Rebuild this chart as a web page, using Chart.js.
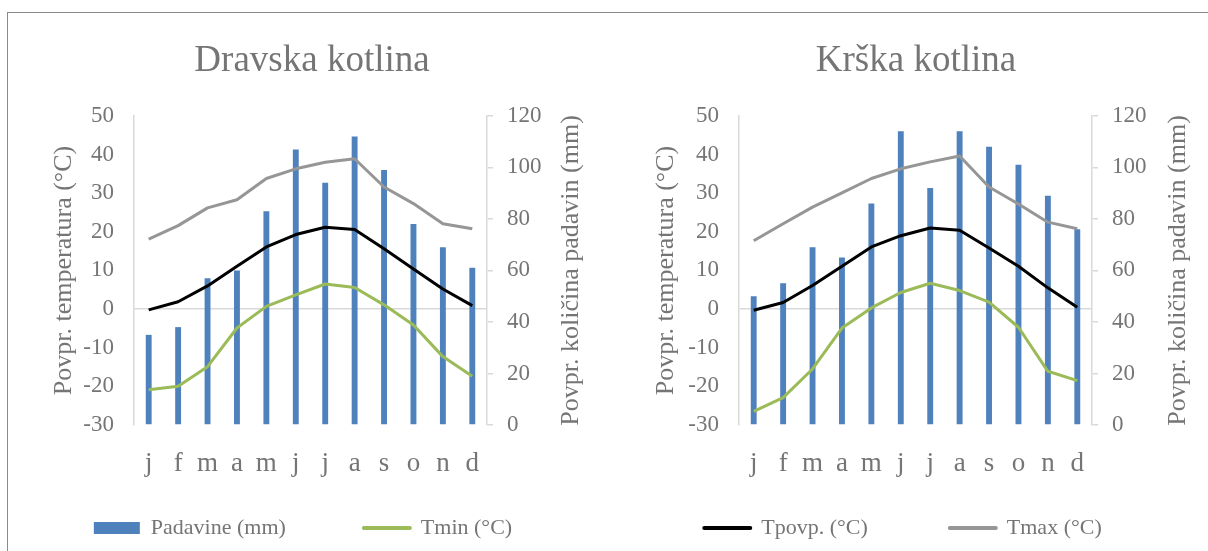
<!DOCTYPE html>
<html>
<head>
<meta charset="utf-8">
<script src="https://cdn.jsdelivr.net/npm/chart.js@4"></script>
<style>
  html, body { margin: 0; padding: 0; background: #fff; overflow: hidden; }
  #frame { position: absolute; left: 7px; top: 12px; width: 1300px; height: 700px;
           border-top: 1px solid #8a8a8a; border-left: 1px solid #8a8a8a; }
  canvas { position: absolute; top: 0; }
</style>
</head>
<body>
<div id="frame"></div>
<canvas id="c1" width="604" height="600" style="left:0"></canvas>
<canvas id="c2" width="604" height="600" style="left:604px"></canvas>
<script>
// months
var months = ['j', 'f', 'm', 'a', 'm', 'j', 'j', 'a', 's', 'o', 'n', 'd'];

// Dravska kotlina
var dravPadavine = [35, 38, 57, 60, 83, 107, 94, 112, 99, 78, 69, 61];
var dravTmin = [-20.9, -20.0, -14.9, -4.9, 0.7, 3.7, 6.5, 5.6, 1.1, -4.1, -12.3, -17.4];
var dravTpovp = [-0.2, 1.9, 6.0, 11.1, 16.1, 19.3, 21.2, 20.6, 15.6, 10.4, 5.2, 0.9];
var dravTmax = [18.1, 21.6, 26.2, 28.3, 33.8, 36.3, 38.0, 38.9, 31.6, 27.3, 22.1, 20.8];

// Krska kotlina
var krsPadavine = [50, 55, 69, 65, 86, 114, 92, 114, 108, 101, 89, 76];
var krsTmin = [-26.5, -22.9, -15.5, -4.9, 0.3, 4.3, 6.7, 4.8, 1.8, -4.7, -16.1, -18.5];
var krsTpovp = [-0.3, 1.7, 6.1, 11.1, 16.1, 19.0, 21.0, 20.4, 15.8, 11.1, 5.5, 0.5];
var krsTmax = [17.7, 22.1, 26.4, 30.1, 33.8, 36.3, 38.1, 39.6, 31.6, 27.2, 22.5, 20.8];

// axis ranges
var tempRange = [-30, 50, 10];
var rainRange = [0, 120, 20];

var serif = 'Liberation Serif';
var grey = '#757575';
var axisGrey = '#d9d9d9';

// right axis title reads bottom-to-top like the left one
var rightTitle = {
  id: 'rightTitle',
  afterDraw: function (chart, args, o) {
    var s = chart.scales.y1, ctx = chart.ctx;
    ctx.save();
    ctx.translate(s.right - o.offset, (s.top + s.bottom) / 2);
    ctx.rotate(-Math.PI / 2);
    ctx.font = o.size + 'px "' + serif + '"';
    ctx.fillStyle = grey;
    ctx.textAlign = 'center';
    ctx.textBaseline = 'middle';
    ctx.fillText(o.text, 0, 0);
    ctx.restore();
  }
};

// nudge the legend row into place (wide item gaps make the box tall)
var legendShift = {
  id: 'legendShift',
  afterLayout: function (chart, args, o) {
    var lg = chart.legend;
    lg.left += o.dx; lg.right += o.dx;
    lg.top += o.dy; lg.bottom += o.dy;
  }
};

function makeChart(id, title, rain, tmin, tavg, tmax, L) {
  return new Chart(document.getElementById(id), {
    type: 'bar',
    data: {
      labels: months,
      datasets: [
        { type: 'bar', label: 'Padavine (mm)', data: rain, yAxisID: 'y1', order: 1,
          backgroundColor: '#4f81bd', categoryPercentage: 1, barPercentage: 0.2 },
        { type: 'line', label: 'Tmin (°C)', data: tmin, yAxisID: 'y', order: 0,
          borderColor: '#9bbb59', borderWidth: 3, pointRadius: 0, tension: 0, borderJoinStyle: 'round' },
        { type: 'line', label: 'Tpovp. (°C)', data: tavg, yAxisID: 'y', order: 0,
          borderColor: '#000000', borderWidth: 3, pointRadius: 0, tension: 0, borderJoinStyle: 'round' },
        { type: 'line', label: 'Tmax (°C)', data: tmax, yAxisID: 'y', order: 0,
          borderColor: '#969696', borderWidth: 3, pointRadius: 0, tension: 0, borderJoinStyle: 'round' }
      ]
    },
    options: {
      responsive: false,
      animation: false,
      layout: { padding: { left: 20, right: 0, top: 0, bottom: L.pb } },
      scales: {
        x: {
          grid: { display: false },
          border: { display: false },
          ticks: { color: grey, font: { family: serif, size: 27 }, padding: 15,
                   autoSkip: false, maxRotation: 0 },
          afterFit: function (s) { s.height = 60; }
        },
        y: {
          position: 'left',
          min: tempRange[0], max: tempRange[1],
          ticks: { stepSize: tempRange[2], color: grey, font: { family: serif, size: 23 }, padding: 20 },
          grid: { drawTicks: false, lineWidth: 1.5,
                  color: function (c) { return c.tick && c.tick.value === 0 ? axisGrey : 'transparent'; } },
          border: { display: true, color: axisGrey, width: 1.5 },
          title: { display: true, text: 'Povpr. temperatura (°C)', color: grey,
                   font: { family: serif, size: 26 }, padding: { top: L.ltPad, bottom: 0 } },
          afterFit: function (s) { s.width = L.yW; }
        },
        y1: {
          position: 'right',
          min: rainRange[0], max: rainRange[1],
          ticks: { stepSize: rainRange[2], color: grey, font: { family: serif, size: 23 }, padding: 14 },
          grid: { drawOnChartArea: false, tickLength: 6, tickColor: axisGrey, lineWidth: 1.5 },
          border: { display: true, color: axisGrey, width: 1.5 },
          afterFit: function (s) { s.width = L.y1W; }
        }
      },
      plugins: {
        title: { display: true, text: title, color: grey,
                 font: { family: serif, size: 37, weight: 'normal' },
                 padding: { top: 39, bottom: 32.5 } },
        legend: {
          position: 'bottom',
          labels: {
            color: grey, font: { family: serif, size: 22 },
            usePointStyle: true, pointStyleWidth: 46, boxHeight: 12, padding: L.lgPad,
            filter: function (it) { return L.show.indexOf(it.datasetIndex) >= 0; },
            sort: function (a, b) { return a.datasetIndex - b.datasetIndex; },
            generateLabels: function (chart) {
              var items = Chart.defaults.plugins.legend.labels.generateLabels(chart);
              items.forEach(function (it) {
                var ds = chart.data.datasets[it.datasetIndex];
                if (ds.type === 'line') {
                  it.pointStyle = 'line'; it.strokeStyle = ds.borderColor;
                  it.lineWidth = 4; it.lineCap = 'round';
                } else {
                  it.pointStyle = 'rect'; it.lineWidth = 0; it.fillStyle = ds.backgroundColor;
                }
              });
              return items;
            }
          }
        },
        tooltip: { enabled: false },
        rightTitle: { text: 'Povpr. količina padavin (mm)', size: 26, offset: L.rtOff },
        legendShift: { dx: L.lgDx, dy: L.lgDy }
      }
    },
    plugins: [rightTitle, legendShift]
  });
}

// legend: 22 + pad + 10 high, placed under a 60px x-axis, then lifted to y~528
makeChart('c1', 'Dravska kotlina', dravPadavine, dravTmin, dravTpovp, dravTmax,
  { pb: 5, yW: 114, y1W: 117, ltPad: 29, rtOff: 33, lgPad: 78, lgDx: -9, lgDy: -46, show: [0, 1] });
makeChart('c2', 'Krška kotlina', krsPadavine, krsTmin, krsTpovp, krsTmax,
  { pb: 1, yW: 115, y1W: 116, ltPad: 27, rtOff: 30, lgPad: 82, lgDx: -13, lgDy: -50, show: [2, 3] });
</script>
</body>
</html>
